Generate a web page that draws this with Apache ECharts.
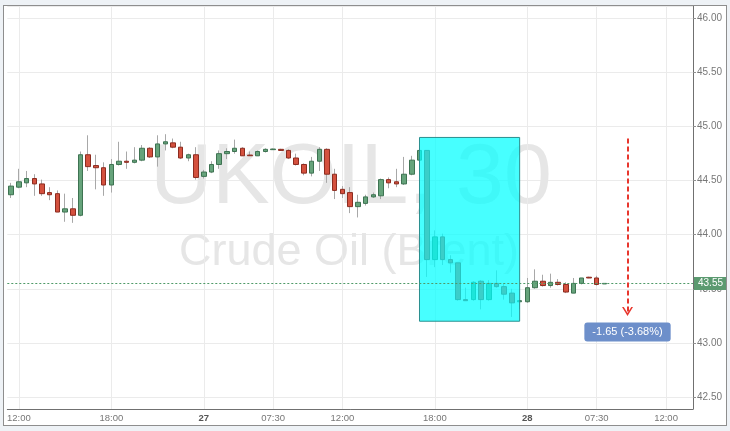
<!DOCTYPE html>
<html>
<head>
<meta charset="utf-8">
<script src="https://cdn.jsdelivr.net/npm/echarts@6/dist/echarts.min.js"></script>
<style>
    html, body { margin: 0; padding: 0; background: #eef2f6; }
    #frame { position: absolute; left: 3px; top: 5px; width: 722px; height: 419px; border: 1px solid #8e8e8e; background: #fff; }
    #chart { width: 722px; height: 419px; }
</style>
</head>
<body>
<div id="frame"><div id="chart"></div></div>
<script>
// 30分钟K线, 日期 + 时间
let categories = [
    '26 11:30', '26 12:00', '26 12:30', '26 13:00', '26 13:30', '26 14:00', '26 14:30', '26 15:00', '26 15:30', '26 16:00', '26 16:30', '26 17:00', '26 17:30',
    '26 18:00', '26 18:30', '26 19:00', '26 19:30', '26 20:00', '26 20:30', '26 21:00', '26 21:30', '26 22:00', '26 22:30', '26 23:00', '26 23:30',
    '27 03:00', '27 03:30', '27 04:00', '27 04:30', '27 05:00', '27 05:30', '27 06:00', '27 06:30', '27 07:00', '27 07:30', '27 08:00', '27 08:30',
    '27 09:00', '27 09:30', '27 10:00', '27 10:30', '27 11:00', '27 11:30', '27 12:00', '27 12:30', '27 13:00', '27 13:30', '27 14:00', '27 14:30',
    '27 15:00', '27 15:30', '27 16:00', '27 16:30', '27 17:00', '27 17:30', '27 18:00', '27 18:30', '27 19:00', '27 19:30', '27 20:00', '27 20:30',
    '27 21:00', '27 21:30', '27 22:00', '27 22:30', '27 23:00', '27 23:30',
    '28 03:00', '28 03:30', '28 04:00', '28 04:30', '28 05:00', '28 05:30', '28 06:00', '28 06:30', '28 07:00', '28 07:30', '28 08:00', '28 08:30',
    '28 09:00', '28 09:30', '28 10:00', '28 10:30', '28 11:00', '28 11:30', '28 12:00', '28 12:30', '28 13:00', '28 13:30'
];

let openPrice = [
    44.37, 44.44, 44.48, 44.52, 44.47, 44.39, 44.38, 44.21, 44.24, 44.18, 44.74, 44.64, 44.62,
    44.46, 44.65, 44.68, 44.67, 44.69, 44.80, 44.72, 44.84, 44.85, 44.81, 44.71, 44.74,
    44.54, 44.58, 44.65, 44.75, 44.77, 44.80, 44.737, 44.73, 44.77, 44.787, 44.79, 44.78,
    44.71, 44.65, 44.57, 44.68, 44.79, 44.56, 44.42, 44.39, 44.26, 44.29, 44.35, 44.36,
    44.51, 44.49, 44.47, 44.56, 44.69, 44.78, 43.77, 43.98, 43.77, 43.74, 43.40, 43.40,
    43.57, 43.40, 43.55, 43.52, 43.46, 43.38,
    43.38, 43.51, 43.57, 43.53, 43.56, 43.54, 43.46, 43.55, 43.607, 43.60, 43.545
];
let closePrice = [
    44.45, 44.49, 44.52, 44.47, 44.38, 44.37, 44.21, 44.24, 44.18, 44.74, 44.63, 44.62, 44.46,
    44.65, 44.68, 44.67, 44.69, 44.80, 44.72, 44.84, 44.86, 44.81, 44.71, 44.74, 44.53,
    44.58, 44.65, 44.75, 44.77, 44.80, 44.73, 44.731, 44.77, 44.79, 44.793, 44.78, 44.71,
    44.65, 44.57, 44.68, 44.79, 44.56, 44.41, 44.38, 44.26, 44.30, 44.35, 44.37, 44.51,
    44.48, 44.47, 44.56, 44.69, 44.78, 43.77, 43.98, 43.77, 43.74, 43.40, 43.39, 43.56,
    43.40, 43.55, 43.52, 43.45, 43.37, 43.39,
    43.51, 43.57, 43.53, 43.56, 43.54, 43.47, 43.55, 43.60, 43.600, 43.54, 43.55
];
let lowPrice = [
    44.34, 44.43, 44.44, 44.36, 44.36, 44.32, 44.21, 44.12, 44.11, 44.17, 44.59, 44.42, 44.36,
    44.39, 44.64, 44.61, 44.66, 44.68, 44.71, 44.63, 44.78, 44.80, 44.70, 44.68, 44.51,
    44.52, 44.57, 44.61, 44.70, 44.75, 44.73, 44.728, 44.73, 44.76, 44.785, 44.775, 44.70,
    44.64, 44.55, 44.54, 44.59, 44.48, 44.33, 44.34, 44.20, 44.16, 44.27, 44.34, 44.33,
    44.43, 44.44, 44.46, 44.55, 44.68, 43.61, 43.70, 43.72, 43.65, 43.39, 43.39, 43.39,
    43.31, 43.39, 43.51, 43.40, 43.24, 43.31,
    43.37, 43.50, 43.52, 43.51, 43.53, 43.46, 43.46, 43.54, 43.598, 43.53, 43.545
];
let highPrice = [
    44.48, 44.61, 44.59, 44.56, 44.51, 44.44, 44.41, 44.38, 44.34, 44.77, 44.92, 44.74, 44.67,
    44.70, 44.86, 44.77, 44.81, 44.83, 44.81, 44.92, 44.93, 44.89, 44.86, 44.75, 44.81,
    44.60, 44.68, 44.78, 44.80, 44.88, 44.81, 44.77, 44.78, 44.80, 44.797, 44.795, 44.79,
    44.75, 44.66, 44.72, 44.81, 44.80, 44.61, 44.45, 44.44, 44.37, 44.37, 44.39, 44.52,
    44.53, 44.61, 44.72, 44.73, 44.80, 44.78, 44.04, 44.01, 43.81, 43.74, 43.51, 43.57,
    43.58, 43.58, 43.67, 43.55, 43.50, 43.39,
    43.60, 43.68, 43.63, 43.64, 43.59, 43.56, 43.60, 43.60, 43.612, 43.62, 43.55
];

// 横轴刻度
let tickCats = ['26 12:00', '26 18:00', '27 03:00', '27 07:30', '27 12:00', '27 18:00', '28 03:00', '28 07:30', '28 12:00'];
let tickText = ['12:00', '18:00', '27', '07:30', '12:00', '18:00', '28', '07:30', '12:00'];

let lastPrice = 43.55;
let changeText = '-1.65 (-3.68%)';
// 标注: 方框和箭头
let boxFrom = ['27 17:00', 44.90];
let boxTo = ['27 23:30', 43.20];
let arrowAt = '28 09:30';
let arrowFrom = 44.89;
let arrowTo = 43.29;

let upColor = '#66a37b', upBorder = '#3e7352';
let downColor = '#d4513e', downBorder = '#8c2c20';
let font = '"Liberation Sans", Arial, sans-serif';

let chart = echarts.init(document.getElementById('chart'));

let bodyData = [];
let wickData = [];
for (let i = 0; i < openPrice.length; i++) {
    bodyData.push([openPrice[i], closePrice[i], Math.min(openPrice[i], closePrice[i]), Math.max(openPrice[i], closePrice[i])]);
    wickData.push([openPrice[i], closePrice[i], lowPrice[i], highPrice[i]]);
}

function isTick(index, value) {
    return tickCats.indexOf(value) >= 0;
}

let option = {
    animation: false,
    textStyle: {fontFamily: font},
    grid: {left: 0, top: 0, width: 689, height: 403},
    graphic: [
        {
            type: 'text', x: 347, y: 173, z: 1, silent: true,
            style: {text: 'UKOIL, 30', font: '86px ' + font, fill: '#e6e6e6', align: 'center', verticalAlign: 'middle'}
        },
        {
            type: 'text', x: 345, y: 247, z: 1, silent: true,
            style: {text: 'Crude Oil (Brent)', font: '45px ' + font, fill: '#e6e6e6', align: 'center', verticalAlign: 'middle'}
        }
    ],
    xAxis: {
        type: 'category',
        data: categories,
        boundaryGap: true,
        axisLine: {lineStyle: {color: '#707070'}},
        axisTick: {interval: isTick, alignWithLabel: true, length: 3, lineStyle: {color: '#909090'}},
        axisLabel: {
            interval: isTick,
            margin: 4,
            fontSize: 9.5,
            color: '#777',
            formatter: function (value) {
                let t = tickText[tickCats.indexOf(value)] || '';
                return t.length === 2 ? '{d|' + t + '}' : t;
            },
            rich: {d: {fontWeight: 'bold', color: '#555', fontSize: 9.5}}
        },
        splitLine: {show: false}
    },
    yAxis: {
        type: 'value',
        position: 'right',
        scale: true,
        min: 42.388,
        max: 46.116,
        splitNumber: 7,
        minInterval: 0.5,
        maxInterval: 0.5,
        axisLine: {show: true, lineStyle: {color: '#707070'}},
        axisTick: {show: true, length: 3, lineStyle: {color: '#909090'}},
        axisLabel: {
            margin: 4, fontSize: 10, color: '#777', showMinLabel: false, showMaxLabel: false,
            formatter: function (v) { return v.toFixed(2); }
        },
        splitLine: {lineStyle: {color: '#ebebeb'}}
    },
    series: [
        {
            name: 'wick',
            type: 'candlestick',
            data: wickData,
            barWidth: 0.5,
            z: 2,
            itemStyle: {color: '#aaa', color0: '#aaa', borderColor: '#a8a8a8', borderColor0: '#a8a8a8', borderWidth: 1},
            markLine: {
                z: 1, silent: true, symbol: ['none', 'none'], label: {show: false},
                lineStyle: {color: '#ebebeb', type: 'solid', width: 1},
                data: tickCats.map(function (c) { return {xAxis: c}; })
            }
        },
        {
            name: 'UKOIL',
            type: 'candlestick',
            data: bodyData,
            barWidth: 5,
            z: 3,
            itemStyle: {color: upColor, color0: downColor, borderColor: upBorder, borderColor0: downBorder, borderWidth: 1},
            markArea: {
                z: 10, silent: true,
                itemStyle: {color: 'rgba(0,255,255,0.72)', borderColor: '#2a8f8f', borderWidth: 1},
                data: [[{xAxis: boxFrom[0], yAxis: boxFrom[1]}, {xAxis: boxTo[0], yAxis: boxTo[1]}]]
            },
            markLine: {
                z: 12, silent: true,
                symbol: ['none', 'none'],
                lineStyle: {color: '#4f9a68', type: [2, 2], width: 1},
                data: [
                    {
                        yAxis: lastPrice,
                        lineStyle: {color: '#4f9a68', type: [2, 2], width: 1},
                        label: {
                            show: true, position: 'end', distance: 1, formatter: lastPrice.toFixed(2),
                            color: '#fff', backgroundColor: '#5b9a70', padding: [2, 4, 1, 4], fontSize: 10
                        }
                    },
                    [
                        {xAxis: arrowAt, yAxis: arrowFrom, symbol: 'none'},
                        {
                            xAxis: arrowAt, yAxis: arrowTo,
                            symbol: 'path://M0,10 L5,0 L10,10 L8.4,10 L5,3.4 L1.6,10 Z', symbolSize: [11, 9],
                            lineStyle: {color: '#e8362d', type: [5, 3], width: 2},
                            label: {
                                show: true, position: 'end', distance: 11, formatter: changeText,
                                color: '#fff', backgroundColor: '#6d8fca', padding: [4, 8], borderRadius: 3, fontSize: 11
                            }
                        }
                    ]
                ]
            }
        }
    ]
};
chart.setOption(option);
</script>
</body>
</html>
